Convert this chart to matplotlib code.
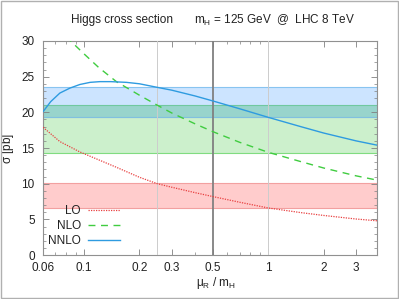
import matplotlib
matplotlib.use("Agg")
import matplotlib.pyplot as plt
from matplotlib.patches import Rectangle
from matplotlib.ticker import FixedLocator, FixedFormatter, MultipleLocator

plt.rcParams['font.family'] = ['Liberation Sans', 'DejaVu Sans']

# scale ratio mu_R / m_H and cross sections [pb]
lo_x = [0.06, 0.074, 0.095, 0.115, 0.15, 0.2, 0.25, 0.3, 0.4, 0.5, 0.7, 1.0, 1.5, 2.0, 3.0, 3.9]
lo_y = [17.9, 15.9, 14.45, 13.55, 12.3, 10.9, 10.0, 9.5, 8.75, 8.2, 7.4, 6.6, 5.95, 5.55, 5.05, 4.8]

nlo_x = [0.08, 0.1, 0.12, 0.15, 0.2, 0.25, 0.3, 0.4, 0.5, 0.7, 1.0, 1.5, 2.0, 3.0, 3.9]
nlo_y = [30.6, 28.2, 26.3, 24.3, 22.4, 21.0, 19.9, 18.4, 17.3, 15.8, 14.4, 13.1, 12.2, 11.1, 10.5]

nnlo_x = [0.06, 0.066, 0.074, 0.084, 0.095, 0.108, 0.122, 0.14, 0.17, 0.2, 0.25, 0.3, 0.4, 0.5,
          0.7, 1.0, 1.5, 2.0, 3.0, 3.9]
nnlo_y = [20.1, 21.5, 22.7, 23.4, 23.9, 24.2, 24.3, 24.3, 24.2, 24.0, 23.5, 23.1, 22.3, 21.6,
          20.5, 19.3, 18.0, 17.1, 16.0, 15.4]

# uncertainty bands (low, high) in pb
lo_band = (6.6, 10.1)
nlo_band = (14.35, 21.0)
nnlo_band = (19.3, 23.5)

ref_lines = [0.25, 0.5, 1.0]

x_ticks = [0.06, 0.1, 0.2, 0.3, 0.5, 1, 2, 3]
x_labels = ["0.06", "0.1", "0.2", "0.3", "0.5", "1", "2", "3"]
x_minor = [0.07, 0.08, 0.09, 0.4, 0.6, 0.7, 0.8, 0.9]

fig = plt.figure(figsize=(3.99, 2.99), dpi=100)
ax = fig.add_axes([0.108, 0.147, 0.837, 0.716])

xmin, xmax = 0.06, 3.9

# bands (overlap of NLO and NNLO drawn as its own darker strip)
ax.axhspan(*nlo_band, facecolor="#ccf0cc", edgecolor="#80dc80", lw=0.8, zorder=1)
ax.axhspan(*nnlo_band, facecolor="#cce4ff", edgecolor="#88c4f0", lw=0.8, zorder=1)
ov_lo, ov_hi = max(nlo_band[0], nnlo_band[0]), min(nlo_band[1], nnlo_band[1])
ax.axhspan(ov_lo, ov_hi, facecolor="#98d4cc", edgecolor="none", zorder=1.5)
ax.axhline(nlo_band[1], color="#70c8a0", lw=0.8, zorder=1.6)
ax.axhline(nnlo_band[0], color="#80c0e0", lw=0.8, zorder=1.6)
ax.axhspan(*lo_band, facecolor="#ffcccc", edgecolor="#f2a0a0", lw=0.8, zorder=1)

# reference scales
for xv in ref_lines:
    if xv == 0.5:
        ax.axvline(xv, color="#808080", lw=1.3, zorder=3)
    else:
        ax.axvline(xv, color="#cccccc", lw=0.7, zorder=3)

ax.plot(lo_x, lo_y, color="#e84040", lw=0.9, ls=(0, (1, 1.0)), label="LO", zorder=4)
ax.plot(nlo_x, nlo_y, color="#40cc40", lw=1.0, ls=(0, (5, 4)), label="NLO", zorder=4)
ax.plot(nnlo_x, nnlo_y, color="#2e9be0", lw=1.0, label="NNLO", zorder=4)

ax.set_xscale("log")
ax.set_xlim(xmin, xmax)
ax.set_ylim(0, 30)
ax.xaxis.set_major_locator(FixedLocator(x_ticks))
ax.xaxis.set_major_formatter(FixedFormatter(x_labels))
ax.xaxis.set_minor_locator(FixedLocator(x_minor))
ax.xaxis.set_minor_formatter(FixedFormatter([]))
ax.yaxis.set_major_locator(MultipleLocator(5))
ax.yaxis.set_minor_locator(MultipleLocator(1))

ax.tick_params(which="both", direction="in", top=True, right=True, color="#808080",
               labelsize=8.5, labelcolor="#222222")
ax.tick_params(which="major", length=4, width=0.6)
ax.tick_params(which="minor", length=2, width=0.5)
ax.tick_params(axis="x", which="major", pad=5)
ax.tick_params(axis="y", which="major", pad=6)
for s in ax.spines.values():
    s.set_color("#909090")
    s.set_linewidth(0.8)

ax.set_xlabel(r"$\mathregular{\mu_R}$ / $\mathregular{m_H}$", fontsize=8.5, color="#222222")
ax.xaxis.set_label_coords(0.518, -0.092)
ax.set_ylabel(r"$\mathregular{\sigma}$ [pb]", fontsize=8.5, color="#222222")
ax.yaxis.set_label_coords(-0.082, 0.5)

fig.text(0.306, 0.932, "Higgs cross section", ha="center", va="center", fontsize=8.5, color="#222222")
fig.text(0.487, 0.932, r"$\mathregular{m_H}$ = 125 GeV  @  LHC 8 TeV", ha="left", va="center",
         fontsize=8.5, color="#222222")

leg = ax.legend(loc="lower left", bbox_to_anchor=(-0.01, 0.0), frameon=False, markerfirst=False,
                fontsize=8.5, handlelength=2.7, handletextpad=0.6, labelspacing=0.25,
                borderaxespad=0.3)
for t in leg.get_texts():
    t.set_color("#222222")

fig.patches.append(Rectangle((0.002, 0.002), 0.996, 0.994, transform=fig.transFigure,
                             fill=False, edgecolor="#b0b0b0", lw=1.0))

fig.savefig("out.png", dpi=100)
